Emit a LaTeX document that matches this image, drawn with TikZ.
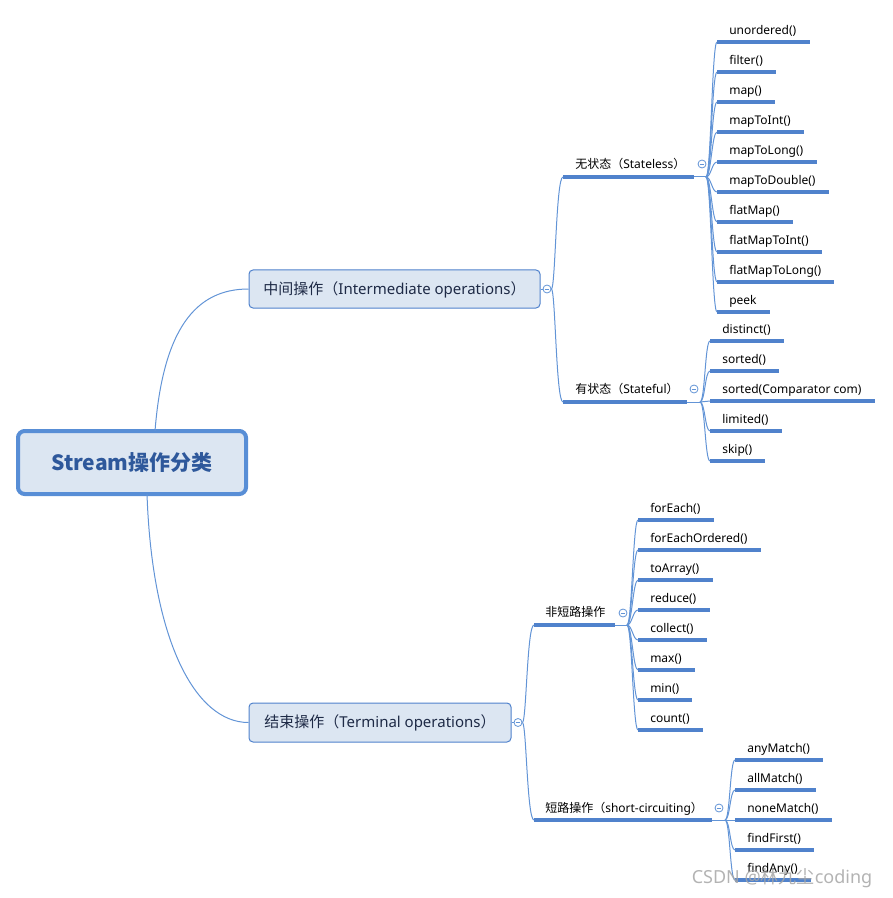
\documentclass[tikz,border=0pt]{standalone}
\usepackage{fontspec}
\setmainfont{Noto Sans}
\newfontfamily\cjk{Noto Sans CJK SC}
\usetikzlibrary{calc}
\definecolor{lineblue}{RGB}{80,130,204}
\definecolor{thinblue}{RGB}{98,148,214}
\definecolor{boxfill}{RGB}{220,230,242}
\definecolor{roottext}{RGB}{46,88,155}
\definecolor{maintext}{RGB}{30,42,70}
\definecolor{rootborder}{RGB}{88,142,214}
\tikzset{
 conn/.style={draw=thinblue, line width=0.75pt},
 uline/.style={draw=lineblue, line width=2.3pt},
 leaf/.style={anchor=west, inner sep=0pt, font=\fontsize{9}{10}\selectfont, text height=0.92em, text depth=0.2em},
 catlabel/.style={leaf},
 mainbox/.style={draw=lineblue, fill=boxfill, rounded corners=3pt, line width=0.75pt, inner sep=0pt, text height=0.95em, text depth=0.15em, font=\fontsize{11.25}{13}\selectfont, text=maintext},
 rootbox/.style={draw=rootborder, fill=boxfill, rounded corners=5pt, line width=3pt, minimum width=171pt, minimum height=47.25pt, font=\fontsize{15.75}{18}\selectfont\bfseries, text=roottext},
 togglecirc/.style={circle, draw=thinblue, fill=white, line width=0.6pt, minimum size=6pt, inner sep=0pt,
   path picture={\draw[thinblue, line width=0.6pt] ([xshift=-1.8pt]path picture bounding box.center) -- ([xshift=1.8pt]path picture bounding box.center);}},
}
\newcommand\mmleaf[5]{%
 \node[leaf] (#1) at (#3,#4) {#5};
 \coordinate (#1s) at ($(#1.west)+(-12,12)$);
 \coordinate (#1e) at ($(#1.east)+(13,12)$);
 \draw[conn] (#2) .. controls +(5,0) and +(-5,0) .. (#1s);
 \draw[uline] (#1s) -- (#1e);
}
\begin{document}
\begin{tikzpicture}[x=0.75pt,y=-0.75pt]
\useasboundingbox (0,0) rectangle (892,898);
% root and main nodes
\node[rootbox] (root) at (132,462.5) {{\cjk Stream操作分类}};
\node[mainbox, minimum width=218.25pt, minimum height=28.5pt] (mid) at (394.5,289) {{\cjk 中间操作（}Intermediate operations{\cjk ）}};
\node[mainbox, minimum width=196.5pt, minimum height=29.25pt] (term) at (380,722.5) {{\cjk 结束操作（}Terminal operations{\cjk ）}};
\coordinate (rt) at (155,431);
\coordinate (rb) at (147,494);
\draw[conn] (rt) .. controls (163,330) and (195,289) .. (mid.west);
\draw[conn] (rb) .. controls (152,640) and (195,722.5) .. (term.west);
\node[togglecirc] (cm) at (547,289) {};
\node[togglecirc] (ct) at (518,722.5) {};
\draw[conn] (mid.east) -- (cm.west);
\draw[conn] (term.east) -- (ct.west);
% category: stateless
\node[catlabel] (sl) at (575,164) {{\cjk 无状态（}Stateless{\cjk ）}};
\coordinate (sls) at (563,177); \coordinate (sle) at (694,177); \coordinate (J1) at (706,177);
\draw[conn] (cm.east) .. controls +(4,0) and +(-7,0) .. (sls);
\draw[uline] (sls) -- (sle); \draw[conn] (sle) -- (J1);
% category: stateful
\node[catlabel] (sf) at (575,389) {{\cjk 有状态（}Stateful{\cjk ）}};
\coordinate (sfs) at (563,402); \coordinate (sfe) at (687,402); \coordinate (J2) at (700,402);
\draw[conn] (cm.east) .. controls +(4,0) and +(-7,0) .. (sfs);
\draw[uline] (sfs) -- (sfe); \draw[conn] (sfe) -- (J2);
% category: non short-circuiting
\node[catlabel] (ns) at (545,612) {{\cjk 非短路操作}};
\coordinate (nss) at (534,625); \coordinate (nse) at (615,625); \coordinate (J3) at (627,625);
\draw[conn] (ct.east) .. controls +(4,0) and +(-7,0) .. (nss);
\draw[uline] (nss) -- (nse); \draw[conn] (nse) -- (J3);
% category: short-circuiting
\node[catlabel] (sc) at (545,808) {{\cjk 短路操作（}short-circuiting{\cjk ）}};
\coordinate (scs) at (534,820); \coordinate (sce) at (712,820); \coordinate (J4) at (725,820);
\draw[conn] (ct.east) .. controls +(4,0) and +(-7,0) .. (scs);
\draw[uline] (scs) -- (sce); \draw[conn] (sce) -- (J4);
% leaves: stateless
\mmleaf{a1}{J1}{729}{30}{unordered()}
\mmleaf{a2}{J1}{729}{60}{filter()}
\mmleaf{a3}{J1}{729}{90}{map()}
\mmleaf{a4}{J1}{729}{120}{mapToInt()}
\mmleaf{a5}{J1}{729}{150}{mapToLong()}
\mmleaf{a6}{J1}{729}{180}{mapToDouble()}
\mmleaf{a7}{J1}{729}{210}{flatMap()}
\mmleaf{a8}{J1}{729}{240}{flatMapToInt()}
\mmleaf{a9}{J1}{729}{270}{flatMapToLong()}
\mmleaf{a10}{J1}{729}{300}{peek}
% leaves: stateful
\mmleaf{b1}{J2}{722}{329}{distinct()}
\mmleaf{b2}{J2}{722}{359}{sorted()}
\mmleaf{b3}{J2}{722}{389}{sorted(Comparator com)}
\mmleaf{b4}{J2}{722}{419}{limited()}
\mmleaf{b5}{J2}{722}{449}{skip()}
% leaves: non short-circuiting
\mmleaf{c1}{J3}{650}{508}{forEach()}
\mmleaf{c2}{J3}{650}{538}{forEachOrdered()}
\mmleaf{c3}{J3}{650}{568}{toArray()}
\mmleaf{c4}{J3}{650}{598}{reduce()}
\mmleaf{c5}{J3}{650}{628}{collect()}
\mmleaf{c6}{J3}{650}{658}{max()}
\mmleaf{c7}{J3}{650}{688}{min()}
\mmleaf{c8}{J3}{650}{718}{count()}
% leaves: short-circuiting
\mmleaf{d1}{J4}{747}{748}{anyMatch()}
\mmleaf{d2}{J4}{747}{778}{allMatch()}
\mmleaf{d3}{J4}{747}{808}{noneMatch()}
\mmleaf{d4}{J4}{747}{838}{findFirst()}
\mmleaf{d5}{J4}{747}{868}{findAny()}
% toggle circles of categories
\node[togglecirc] (t1) at (702,164) {};
\node[togglecirc] (t2) at (694,389) {};
\node[togglecirc] (t3) at (623,613) {};
\node[togglecirc] (t4) at (719,808) {};
% watermark
\node[font=\fontsize{13.5}{15}\selectfont, text=black!35, opacity=0.85, inner sep=0pt] (wm) at (782,878) {CSDN @{\cjk 林九尘}coding};
\end{tikzpicture}
\end{document}
